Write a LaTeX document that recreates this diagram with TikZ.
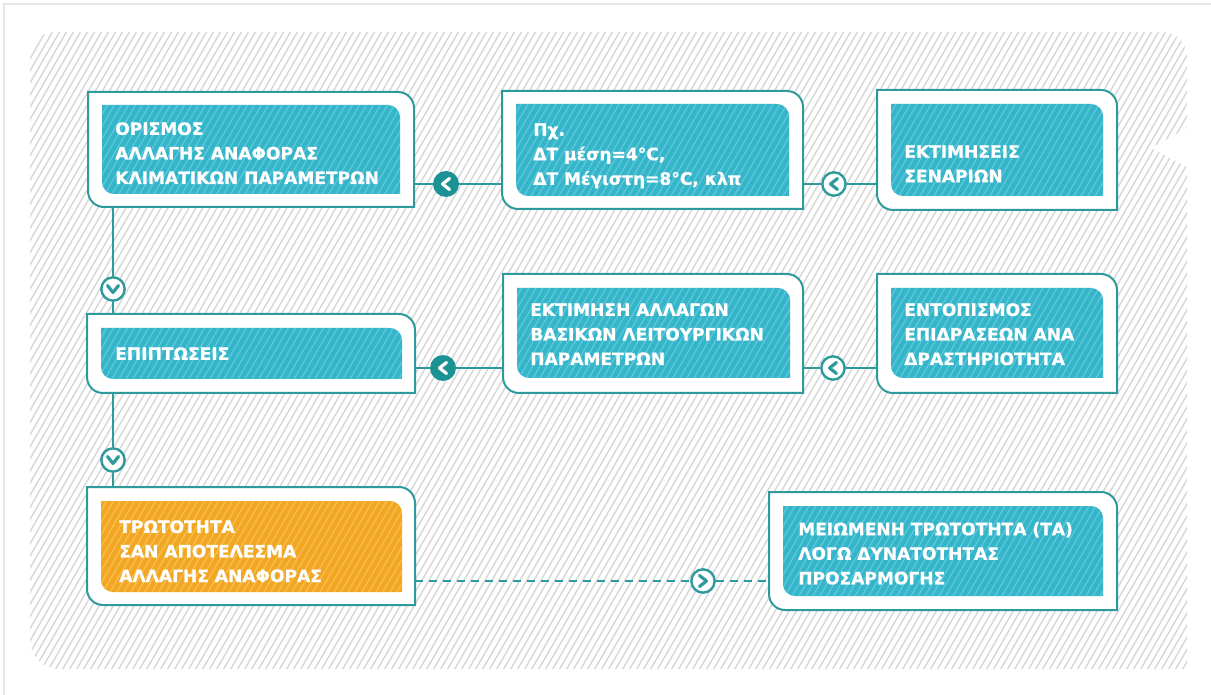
\documentclass[tikz,border=0pt]{standalone}
\usepackage{fontspec}
\setmainfont{DejaVu Sans}
\newfontfamily\heavyfont[FakeBold=0.7]{DejaVu Sans Bold}
\usetikzlibrary{calc,fit}
\definecolor{tealline}{HTML}{2E9A9C}
\definecolor{tealdark}{HTML}{1C9295}
\definecolor{cyanbox}{HTML}{34B5CA}
\definecolor{cyanboxstripe}{HTML}{5AC6D8}
\definecolor{orangebox}{HTML}{F2A622}
\definecolor{orangeboxstripe}{HTML}{F6BD4E}
\definecolor{bgstripe}{HTML}{D8D8D8}
\definecolor{framegray}{HTML}{E6E6E6}

\newcommand\rrpath[5]{(#1,#2) -- ({#3-#5},#2) .. controls ({#3-0.448*#5},#2) and (#3,{#2+0.448*#5}) .. (#3,{#2+#5}) -- (#3,#4) -- ({#1+#5},#4) .. controls ({#1+0.448*#5},#4) and (#1,{#4-0.448*#5}) .. (#1,{#4-#5}) -- cycle}

\newcommand\stepbox[9]{%
  \fill[white] \rrpath{#1}{#2}{#3}{#4}{16};
  \fill[#9] \rrpath{#5}{#6}{#7}{#8}{12};
  \begin{scope}
    \clip \rrpath{#5}{#6}{#7}{#8}{12};
    \pgfmathtruncatemacro\hsA{#5-(#8-#6)*0.58-8}
    \pgfmathtruncatemacro\hsB{\hsA+7}
    \foreach \i in {\hsA,\hsB,...,#7}{\draw[#9stripe,line width=1.1pt] (\i,#8) -- ++({(#8-#6)*0.5774},{-(#8-#6)});}
  \end{scope}
  \draw[tealline,line width=1.5pt] \rrpath{#1}{#2}{#3}{#4}{16};
}

\tikzset{
  mfilled/.style={circle, fill=tealdark, minimum size=19.5pt, inner sep=0pt},
  mhollow/.style={circle, fill=white, draw=tealline, line width=1.8pt, minimum size=17.5pt, inner sep=0pt},
  conn/.style={tealline, line width=1.5pt},
  chevw/.style={white, line width=2.4pt, line cap=round, line join=round},
  chevt/.style={tealline, line width=2.4pt, line cap=round, line join=round},
  txt/.style={anchor=north west, inner sep=0pt, text=white, font=\heavyfont\fontsize{12.8}{18.4}\selectfont, align=left},
  boxarea/.style={inner sep=0pt},
}

\begin{document}
\begin{tikzpicture}[x=0.75pt,y=-0.75pt]
\useasboundingbox (0,0) rectangle (1211,695);
\fill[white] (0,0) rectangle (1211,695);
\draw[framegray, line width=1.2pt] (4,695) -- (4,4) -- (1211,4);

% hatched background
\begin{scope}
  \clip (30,57) .. controls (30,43) and (41,32) .. (55,32) -- (1162,32) .. controls (1176,32) and (1187,43) .. (1187,57) -- (1187,128) -- (1151,148) -- (1187,167) -- (1187,669) -- (60,669) .. controls (43,669) and (30,656) .. (30,639) -- cycle;
  \foreach \i in {-345,-338,...,1190}{\draw[bgstripe, line width=1.1pt] (\i,672) -- ++(370,-641);}
\end{scope}

% boxes
\stepbox{88}{92}{414}{207}{102}{105}{400}{194}{cyanbox}
\stepbox{502}{91}{803}{209}{516}{104}{789}{196}{cyanbox}
\stepbox{877}{90}{1117}{210}{891}{104}{1103}{196}{cyanbox}
\stepbox{87}{314}{415}{393}{101}{328}{402}{379}{cyanbox}
\stepbox{503}{274}{803}{393}{517}{288}{790}{378}{cyanbox}
\stepbox{877}{274}{1117}{393}{891}{288}{1103}{378}{cyanbox}
\stepbox{87}{487}{415}{605}{101}{501}{402}{592}{orangebox}
\stepbox{769}{492}{1117}{610}{783}{506}{1103}{596}{cyanbox}

\node[boxarea, fit={(88,92) (414,207)}] (b1) {};
\node[boxarea, fit={(502,91) (803,209)}] (b2) {};
\node[boxarea, fit={(877,90) (1117,210)}] (b3) {};
\node[boxarea, fit={(87,314) (415,393)}] (b4) {};
\node[boxarea, fit={(503,274) (803,393)}] (b5) {};
\node[boxarea, fit={(877,274) (1117,393)}] (b6) {};
\node[boxarea, fit={(87,487) (415,605)}] (b7) {};
\node[boxarea, fit={(769,492) (1117,610)}] (b8) {};

% texts
\node[txt] (t1) at (115,122) {ΟΡΙΣΜΟΣ\\ΑΛΛΑΓΗΣ ΑΝΑΦΟΡΑΣ\\ΚΛΙΜΑΤΙΚΩΝ ΠΑΡΑΜΕΤΡΩΝ};
\node[txt] (t2) at (533,123) {Πχ.\\ΔΤ μέση=4°C,\\ΔΤ Μέγιστη=8°C, κλπ};
\node[txt] (t3) at (904,145) {ΕΚΤΙΜΗΣΕΙΣ\\ΣΕΝΑΡΙΩΝ};
\node[txt] (t4) at (115,347) {ΕΠΙΠΤΩΣΕΙΣ};
\node[txt] (t5) at (530,303) {ΕΚΤΙΜΗΣΗ ΑΛΛΑΓΩΝ\\ΒΑΣΙΚΩΝ ΛΕΙΤΟΥΡΓΙΚΩΝ\\ΠΑΡΑΜΕΤΡΩΝ};
\node[txt] (t6) at (904,303) {ΕΝΤΟΠΙΣΜΟΣ\\ΕΠΙΔΡΑΣΕΩΝ ΑΝΑ\\ΔΡΑΣΤΗΡΙΟΤΗΤΑ};
\node[txt] (t7) at (119,520) {ΤΡΩΤΟΤΗΤΑ\\ΣΑΝ ΑΠΟΤΕΛΕΣΜΑ\\ΑΛΛΑΓΗΣ ΑΝΑΦΟΡΑΣ};
\node[txt] (t8) at (798,522) {ΜΕΙΩΜΕΝΗ ΤΡΩΤΟΤΗΤΑ (ΤΑ)\\ΛΟΓΩ ΔΥΝΑΤΟΤΗΤΑΣ\\ΠΡΟΣΑΡΜΟΓΗΣ};

% markers
\node[mfilled] (m1) at (446,184) {};
\node[mhollow] (m2) at (834,184) {};
\node[mfilled] (m3) at (443,368) {};
\node[mhollow] (m4) at (833,368) {};
\node[mhollow] (m5) at (113,289) {};
\node[mhollow] (m6) at (113,460) {};
\node[mhollow] (m7) at (703,581) {};

% connectors
\draw[conn] (b2.west |- m1) -- (m1);
\draw[conn] (m1) -- (b1.east |- m1);
\draw[conn] (b3.west |- m2) -- (m2);
\draw[conn] (m2) -- (b2.east |- m2);
\draw[conn] (b5.west |- m3) -- (m3);
\draw[conn] (m3) -- (b4.east |- m3);
\draw[conn] (b6.west |- m4) -- (m4);
\draw[conn] (m4) -- (b5.east |- m4);
\draw[conn] (b1.south -| m5) -- (m5);
\draw[conn] (m5) -- (b4.north -| m5);
\draw[conn] (b4.south -| m6) -- (m6);
\draw[conn] (m6) -- (b7.north -| m6);
\draw[conn, dash pattern=on 6pt off 4.5pt] (b7.east |- m7) -- (m7);
\draw[conn, dash pattern=on 6pt off 4.5pt] (m7) -- (b8.west |- m7);

% chevrons
\draw[chevw] ($(m1)+(3.5,-5.5)$) -- ($(m1)+(-3.5,0)$) -- ($(m1)+(3.5,5.5)$);
\draw[chevt] ($(m2)+(3.5,-5.5)$) -- ($(m2)+(-3.5,0)$) -- ($(m2)+(3.5,5.5)$);
\draw[chevw] ($(m3)+(3.5,-5.5)$) -- ($(m3)+(-3.5,0)$) -- ($(m3)+(3.5,5.5)$);
\draw[chevt] ($(m4)+(3.5,-5.5)$) -- ($(m4)+(-3.5,0)$) -- ($(m4)+(3.5,5.5)$);
\draw[chevt] ($(m5)+(-5.5,-3.5)$) -- ($(m5)+(0,3.5)$) -- ($(m5)+(5.5,-3.5)$);
\draw[chevt] ($(m6)+(-5.5,-3.5)$) -- ($(m6)+(0,3.5)$) -- ($(m6)+(5.5,-3.5)$);
\draw[chevt] ($(m7)+(-3.5,-5.5)$) -- ($(m7)+(3.5,0)$) -- ($(m7)+(-3.5,5.5)$);
\end{tikzpicture}
\end{document}
